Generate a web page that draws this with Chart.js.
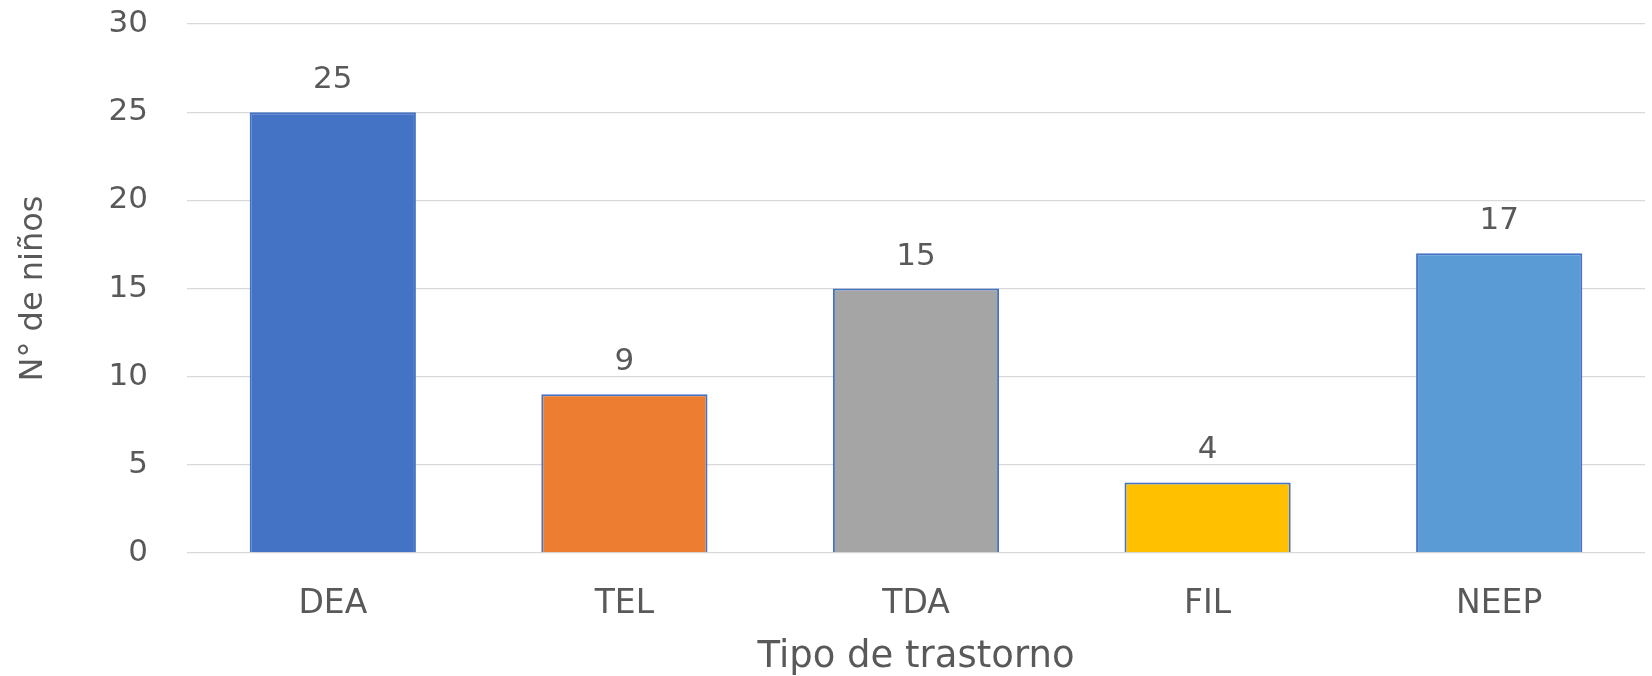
<!DOCTYPE html>
<html>
<head>
<meta charset="utf-8">
<script src="https://cdn.jsdelivr.net/npm/chart.js@4"></script>
<style>
    body { margin: 0; background: #fff; }
    #wrap { width: 1652px; height: 676px; }
</style>
</head>
<body>
<div id="wrap"><canvas id="trastornosChart"></canvas></div>
<script>
const categories = ['DEA', 'TEL', 'TDA', 'FIL', 'NEEP'];
const ninos = [25, 9, 15, 4, 17];
const barColors = ['#4472C4', '#ED7D31', '#A5A5A5', '#FFC000', '#5B9BD5'];
const yTicks = [0, 5, 10, 15, 20, 25, 30];

const textColor = '#595959';
const fontFamily = '"DejaVu Sans", sans-serif';

// etiquetas de valor encima de cada barra
const valueLabels = {
    id: 'valueLabels',
    afterDatasetsDraw(chart) {
        const ctx = chart.ctx;
        const meta = chart.getDatasetMeta(0);
        ctx.save();
        ctx.font = '31px ' + fontFamily;
        ctx.fillStyle = textColor;
        ctx.textAlign = 'center';
        ctx.textBaseline = 'alphabetic';
        meta.data.forEach((bar, i) => {
            ctx.fillText(String(ninos[i]), bar.x, bar.y - 24);
        });
        ctx.restore();
    }
};

const ctx = document.getElementById('trastornosChart').getContext('2d');
new Chart(ctx, {
    type: 'bar',
    data: {
        labels: categories,
        datasets: [{
            label: 'N° de niños',
            data: ninos,
            backgroundColor: barColors,
            borderColor: '#4472C4',
            borderWidth: 2,
            barPercentage: 0.57,
            categoryPercentage: 1
        }]
    },
    options: {
        responsive: true,
        maintainAspectRatio: false,
        animation: false,
        layout: { padding: { left: 0, right: 7, top: 24, bottom: 0 } },
        plugins: {
            legend: { display: false },
            tooltip: { enabled: false }
        },
        scales: {
            x: {
                grid: { display: false },
                border: { display: false },
                ticks: {
                    color: textColor,
                    font: { family: fontFamily, size: 33 },
                    padding: 24
                },
                title: {
                    display: true,
                    text: 'Tipo de trastorno',
                    color: textColor,
                    font: { family: fontFamily, size: 37 },
                    padding: { top: 0, bottom: -4 }
                },
                afterFit(scale) {
                    scale.height = 123;
                    scale.paddingLeft = 0;
                    scale.paddingRight = 0;
                }
            },
            y: {
                min: 0,
                max: 30,
                afterBuildTicks(scale) {
                    scale.ticks = yTicks.map(v => ({ value: v }));
                },
                grid: { color: '#D9D9D9', lineWidth: 1.3, drawTicks: false },
                border: { display: false },
                ticks: {
                    color: textColor,
                    font: { family: fontFamily, size: 31 },
                    padding: 39
                },
                title: {
                    display: true,
                    text: 'N° de niños',
                    color: textColor,
                    font: { family: fontFamily, size: 32 },
                    padding: { top: 14, bottom: 0 }
                },
                afterFit(scale) {
                    scale.width = 187;
                    scale.paddingTop = 0;
                    scale.paddingBottom = 0;
                }
            }
        }
    },
    plugins: [valueLabels]
});
</script>
</body>
</html>
